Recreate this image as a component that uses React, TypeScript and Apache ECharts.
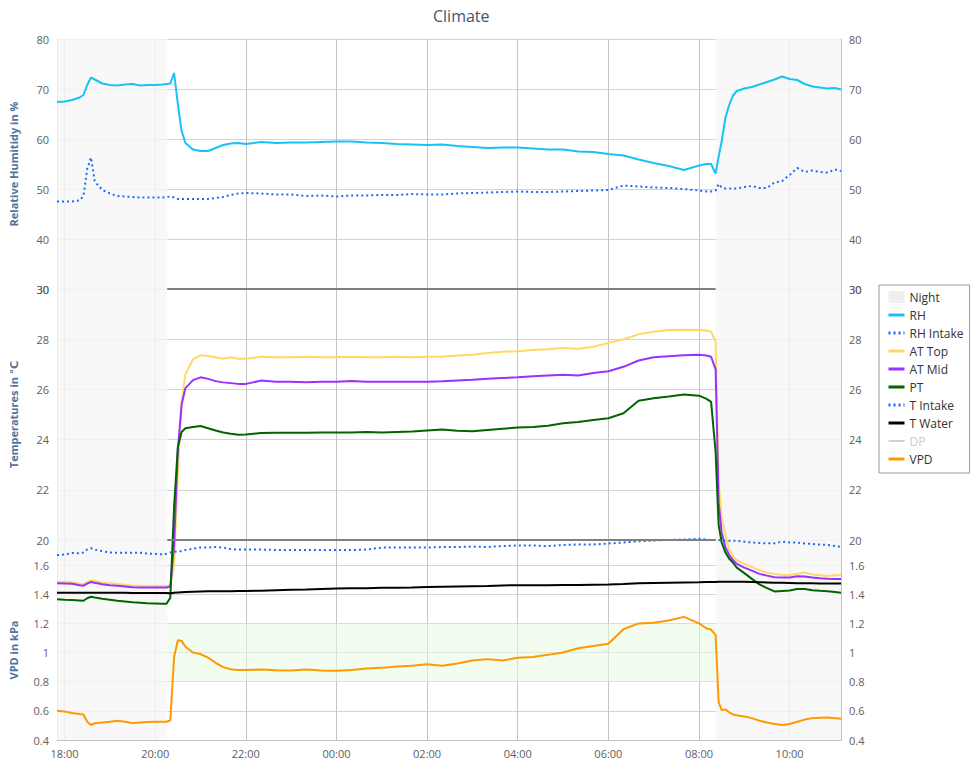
import React, { useEffect, useRef } from "react";
import * as echarts from "echarts";

// Sample times (HH:MM), evening of day 1 to late morning of day 2
const times = [
  "17:50", "18:00", "18:10", "18:20", "18:25", "18:30", "18:35", "18:40", "18:50", "19:00",
  "19:10", "19:20", "19:30", "19:40", "19:50", "20:00", "20:10", "20:15", "20:20", "20:25",
  "20:30", "20:35", "20:40", "20:50", "21:00", "21:10", "21:20", "21:30", "21:40", "21:50",
  "22:00", "22:20", "22:40", "23:00", "23:20", "23:40", "00:00", "00:20", "00:40", "01:00",
  "01:20", "01:40", "02:00", "02:20", "02:40", "03:00", "03:20", "03:40", "04:00", "04:20",
  "04:40", "05:00", "05:20", "05:40", "06:00", "06:20", "06:40", "07:00", "07:20", "07:40",
  "08:00", "08:10", "08:16", "08:22", "08:26", "08:30", "08:35", "08:40", "08:45", "08:50",
  "09:00", "09:10", "09:20", "09:30", "09:40", "09:50", "10:00", "10:10", "10:20", "10:30",
  "10:40", "10:50", "11:00", "11:08",
];

const rh = [
  67.4, 67.5, 67.8, 68.3, 68.8, 70.8, 72.3, 71.9, 71.1, 70.8,
  70.7, 70.9, 71.0, 70.7, 70.8, 70.8, 70.9, 71.0, 71.1, 73.2,
  67.0, 61.6, 59.2, 57.9, 57.6, 57.6, 58.2, 58.8, 59.1, 59.2,
  59.0, 59.4, 59.2, 59.3, 59.3, 59.4, 59.5, 59.5, 59.3, 59.2,
  59.0, 58.9, 58.8, 58.9, 58.6, 58.4, 58.2, 58.3, 58.3, 58.1,
  57.9, 57.9, 57.5, 57.4, 57.0, 56.7, 55.9, 55.2, 54.6, 53.8,
  54.7, 55.0, 55.0, 53.1, 56.5, 59.5, 64.3, 66.8, 68.7, 69.6,
  70.1, 70.4, 70.9, 71.4, 71.9, 72.5, 72.0, 71.8, 71.0, 70.5,
  70.3, 70.1, 70.2, 69.9,
];

const rhIntake = [
  47.5, 47.5, 47.5, 47.7, 48.6, 54.0, 56.3, 51.5, 49.8, 49.1,
  48.6, 48.5, 48.4, 48.3, 48.3, 48.3, 48.3, 48.4, 48.5, 48.3,
  48.0, 48.0, 48.0, 48.0, 48.0, 48.0, 48.2, 48.4, 48.8, 49.1,
  49.2, 49.1, 48.9, 48.9, 48.6, 48.7, 48.5, 48.7, 48.7, 48.8,
  48.8, 49.0, 48.9, 48.9, 49.1, 49.2, 49.3, 49.4, 49.5, 49.4,
  49.4, 49.5, 49.6, 49.7, 49.8, 50.7, 50.5, 50.3, 50.2, 50.0,
  49.7, 49.5, 49.5, 49.7, 51.0, 50.3, 50.1, 50.1, 50.1, 50.1,
  50.4, 50.6, 50.2, 50.2, 51.3, 51.6, 52.8, 54.2, 53.4, 53.7,
  53.4, 53.3, 53.9, 53.6,
];

const atTop = [
  18.34, 18.33, 18.32, 18.26, 18.24, 18.32, 18.40, 18.38, 18.30, 18.28,
  18.25, 18.22, 18.19, 18.18, 18.17, 18.17, 18.17, 18.17, 18.20, 19.00,
  22.60, 25.50, 26.60, 27.20, 27.36, 27.33, 27.28, 27.22, 27.28, 27.22,
  27.22, 27.30, 27.28, 27.28, 27.30, 27.28, 27.28, 27.30, 27.28, 27.28,
  27.30, 27.28, 27.30, 27.30, 27.35, 27.38, 27.45, 27.50, 27.52, 27.57,
  27.60, 27.65, 27.62, 27.70, 27.85, 28.00, 28.20, 28.30, 28.37, 28.38,
  28.37, 28.35, 28.30, 27.90, 22.30, 20.90, 20.20, 19.60, 19.35, 19.20,
  19.05, 18.92, 18.80, 18.70, 18.65, 18.61, 18.61, 18.66, 18.70, 18.63,
  18.60, 18.57, 18.60, 18.62,
];

const atMid = [
  18.28, 18.27, 18.26, 18.20, 18.18, 18.26, 18.33, 18.30, 18.24, 18.20,
  18.18, 18.15, 18.12, 18.11, 18.11, 18.11, 18.11, 18.11, 18.15, 19.80,
  23.60, 25.40, 26.05, 26.37, 26.48, 26.42, 26.33, 26.28, 26.25, 26.22,
  26.22, 26.35, 26.30, 26.30, 26.28, 26.30, 26.30, 26.33, 26.30, 26.30,
  26.30, 26.30, 26.30, 26.32, 26.35, 26.38, 26.42, 26.45, 26.48, 26.52,
  26.55, 26.58, 26.55, 26.65, 26.72, 26.90, 27.15, 27.28, 27.32, 27.36,
  27.38, 27.35, 27.30, 26.80, 21.50, 20.30, 19.70, 19.40, 19.20, 19.05,
  18.90, 18.78, 18.65, 18.58, 18.52, 18.51, 18.51, 18.56, 18.55, 18.51,
  18.48, 18.46, 18.45, 18.45,
];

const pt = [
  17.64, 17.62, 17.61, 17.59, 17.58, 17.68, 17.74, 17.71, 17.66, 17.62,
  17.58, 17.55, 17.52, 17.50, 17.48, 17.47, 17.46, 17.46, 17.70, 21.30,
  23.70, 24.30, 24.45, 24.50, 24.54, 24.45, 24.36, 24.28, 24.23, 24.19,
  24.20, 24.26, 24.27, 24.27, 24.27, 24.28, 24.28, 24.28, 24.30, 24.28,
  24.30, 24.32, 24.36, 24.40, 24.35, 24.33, 24.38, 24.43, 24.48, 24.50,
  24.55, 24.65, 24.70, 24.78, 24.85, 25.05, 25.55, 25.65, 25.72, 25.80,
  25.75, 25.62, 25.50, 23.50, 20.60, 19.90, 19.50, 19.25, 19.10, 18.90,
  18.68, 18.45, 18.23, 18.08, 17.95, 17.97, 17.99, 18.05, 18.05, 18.00,
  17.98, 17.96, 17.93, 17.90,
];

const tIntake = [
  19.40, 19.42, 19.48, 19.47, 19.50, 19.62, 19.67, 19.62, 19.55, 19.50,
  19.49, 19.49, 19.49, 19.49, 19.46, 19.44, 19.43, 19.45, 19.50, 19.53,
  19.55, 19.55, 19.60, 19.65, 19.70, 19.70, 19.72, 19.70, 19.64, 19.62,
  19.62, 19.62, 19.60, 19.60, 19.60, 19.60, 19.60, 19.60, 19.62, 19.70,
  19.70, 19.70, 19.70, 19.72, 19.72, 19.74, 19.72, 19.76, 19.78, 19.78,
  19.76, 19.80, 19.82, 19.82, 19.86, 19.90, 19.95, 19.98, 20.00, 20.02,
  20.05, 20.02, 20.00, 20.00, 20.00, 19.98, 19.97, 19.97, 19.97, 19.97,
  19.93, 19.90, 19.88, 19.87, 19.87, 19.93, 19.90, 19.90, 19.86, 19.84,
  19.82, 19.80, 19.76, 19.73,
];

const tWater = [
  17.90, 17.90, 17.90, 17.90, 17.90, 17.90, 17.90, 17.90, 17.90, 17.90,
  17.90, 17.90, 17.89, 17.89, 17.89, 17.89, 17.89, 17.89, 17.88, 17.90,
  17.91, 17.92, 17.93, 17.94, 17.95, 17.96, 17.96, 17.96, 17.96, 17.97,
  17.97, 17.98, 18.00, 18.02, 18.03, 18.05, 18.07, 18.08, 18.08, 18.10,
  18.10, 18.11, 18.13, 18.14, 18.15, 18.16, 18.17, 18.19, 18.20, 18.20,
  18.20, 18.21, 18.21, 18.22, 18.23, 18.25, 18.28, 18.29, 18.30, 18.31,
  18.32, 18.33, 18.33, 18.33, 18.34, 18.34, 18.34, 18.34, 18.34, 18.34,
  18.34, 18.33, 18.32, 18.31, 18.30, 18.30, 18.29, 18.28, 18.28, 18.28,
  18.27, 18.27, 18.27, 18.27,
];

const dp: number[] = []; // hidden in the legend (deselected)

const vpd = [
  0.600, 0.595, 0.585, 0.578, 0.575, 0.525, 0.503, 0.515, 0.520, 0.525,
  0.532, 0.525, 0.516, 0.520, 0.523, 0.525, 0.525, 0.525, 0.535, 0.970,
  1.085, 1.080, 1.040, 1.000, 0.990, 0.965, 0.930, 0.900, 0.885, 0.880,
  0.880, 0.883, 0.879, 0.877, 0.883, 0.877, 0.875, 0.880, 0.890, 0.895,
  0.905, 0.910, 0.920, 0.910, 0.925, 0.945, 0.955, 0.945, 0.965, 0.970,
  0.985, 1.000, 1.030, 1.045, 1.060, 1.160, 1.200, 1.205, 1.220, 1.245,
  1.200, 1.165, 1.158, 1.120, 0.660, 0.605, 0.610, 0.590, 0.575, 0.570,
  0.562, 0.550, 0.532, 0.520, 0.510, 0.503, 0.510, 0.525, 0.540, 0.550,
  0.553, 0.555, 0.550, 0.546,
];

// Day (lights on) period and target bands
const dayStart = "20:16";
const dayEnd = "08:22";
const tempBand = [20, 30];
const vpdBand = [0.8, 1.2];

// Axis ranges [min, max, interval]
const rhRange = [30, 80, 10];
const tempRange = [20, 30, 2];
const vpdRange = [0.4, 1.8, 0.2];

const legendNames = ["Night", "RH", "RH Intake", "AT Top", "AT Mid", "PT", "T Intake", "T Water", "DP", "VPD"];

const toH = (s: string) => {
  const [h, m] = s.split(":").map(Number);
  return (h < 12 ? h + 24 : h) + m / 60;
};
const pairs = (arr: number[]) => arr.map((v, i) => [toH(times[i]), v]);

const FONT = "'Open Sans', 'DejaVu Sans', sans-serif";

export default function App() {
  const ref = useRef<HTMLDivElement>(null);

  useEffect(() => {
    if (!ref.current) return;
    const chart = echarts.init(ref.current, undefined, { renderer: "svg" });

    const xMin = toH(times[0]);
    const xMax = toH(times[times.length - 1]);
    const ds = toH(dayStart);
    const de = toH(dayEnd);

    const labelStyle = { color: "#606060", fontSize: 11, fontFamily: FONT };
    const nameStyle = { color: "#4d759e", fontSize: 11, fontWeight: "bold" as const, fontFamily: FONT };

    const grids = [
      { left: 57, width: 784, top: 39, height: 250 },
      { left: 57, width: 784, top: 289, height: 251 },
      { left: 57, width: 784, top: 536, height: 204 },
    ];

    const xAxes = [0, 1, 2].map((i) => ({
      type: "value",
      gridIndex: i,
      min: xMin,
      max: xMax,
      splitNumber: 8,
      minInterval: 2,
      maxInterval: 2,
      axisLine: { show: i === 2, onZero: false, lineStyle: { color: "#c0c0c0" } },
      axisTick: { show: false },
      axisLabel: {
        show: i === 2,
        showMinLabel: false,
        showMaxLabel: false,
        margin: 8,
        ...labelStyle,
        formatter: (v: number) => {
          const h = ((Math.round(v) % 24) + 24) % 24;
          return (h < 10 ? "0" : "") + h + ":00";
        },
      },
      splitLine: { show: true, lineStyle: { color: "#c4c4c4" } },
    }));

    const yAx = (
      grid: number,
      range: number[],
      pos: "left" | "right",
      name?: string,
      extra: any = {}
    ) => ({
      type: "value",
      gridIndex: grid,
      position: pos,
      min: range[0],
      max: range[1],
      interval: range[2],
      axisLine: { show: true, onZero: false, lineStyle: { color: "#c0c0c0" } },
      axisTick: { show: false },
      axisLabel: { margin: 8, ...labelStyle, ...(extra.axisLabel || {}) },
      splitLine: {
        show: pos === "left",
        lineStyle: { color: "#d4d4d4" },
        ...(extra.splitLine || {}),
      },
      name: name,
      nameLocation: "middle",
      nameGap: 38,
      nameTextStyle: { ...nameStyle, ...(extra.nameTextStyle || {}) },
    });

    const vpdFmt = (v: number) => (v > vpdRange[1] - 0.05 ? "" : String(+v.toFixed(1)));

    const yAxes = [
      yAx(0, rhRange, "left", "Relative Humitidy in %"),
      yAx(0, rhRange, "right"),
      yAx(1, tempRange, "left", "Temperatures in \u2103"),
      yAx(1, tempRange, "right"),
      yAx(2, vpdRange, "left", "VPD in kPa", {
        axisLabel: { formatter: vpdFmt },
        splitLine: { showMaxLine: false },
        nameTextStyle: { padding: [0, 24, 0, 0] },
      }),
      yAx(2, vpdRange, "right", undefined, { axisLabel: { formatter: vpdFmt } }),
    ];

    const nightColor = "rgba(246,246,246,0.8)";
    const nightAreas = [
      [{ xAxis: xMin }, { xAxis: ds }],
      [{ xAxis: de }, { xAxis: xMax }],
    ];
    const nightSeries = [0, 1, 2].map((i) => ({
      name: "Night",
      type: "line",
      xAxisIndex: i,
      yAxisIndex: [0, 2, 4][i],
      data: [],
      z: 1,
      symbol: "none",
      itemStyle: { color: "#eeeeee" },
      lineStyle: { color: "#eeeeee" },
      markArea: { silent: true, itemStyle: { color: nightColor }, data: nightAreas },
    }));

    const line = (
      name: string,
      data: number[],
      grid: number,
      yIdx: number,
      color: string,
      dotted = false,
      extra: any = {}
    ) => ({
      name,
      type: "line",
      xAxisIndex: grid,
      yAxisIndex: yIdx,
      data: pairs(data),
      showSymbol: false,
      symbol: "none",
      clip: false,
      z: 3,
      itemStyle: { color },
      lineStyle: { color, width: 2, type: dotted ? [2, 3] : "solid", cap: "butt" },
      ...extra,
    });

    const option: any = {
      animation: false,
      textStyle: { fontFamily: FONT },
      title: {
        text: "Climate",
        left: 428,
        top: 3,
        textStyle: { color: "#3e576f", fontSize: 16, fontWeight: "normal", fontFamily: FONT },
      },
      legend: {
        orient: "vertical",
        left: 879,
        top: 285,
        padding: [6, 6, 8, 8],
        itemWidth: 16,
        itemHeight: 12,
        itemGap: 6,
        borderColor: "#999999",
        borderWidth: 1,
        inactiveColor: "#cccccc",
        itemStyle: { opacity: 0 },
        lineStyle: { width: 3 },
        textStyle: { color: "#333333", fontSize: 12, fontFamily: FONT },
        selected: { DP: false },
        data: legendNames.map((n) =>
          n === "Night"
            ? { name: n, icon: "rect", itemStyle: { color: "#efefef", opacity: 1 } }
            : n
        ),
      },
      grid: grids,
      xAxis: xAxes,
      yAxis: yAxes,
      series: [
        ...nightSeries,
        line("RH", rh, 0, 0, "#18c3f3"),
        line("RH Intake", rhIntake, 0, 0, "#1a6cf5", true),
        line("AT Top", atTop, 1, 2, "#ffd966", false, {
          markLine: {
            silent: true,
            symbol: ["none", "none"],
            label: { show: false },
            lineStyle: { color: "#808080", width: 2, type: "solid" },
            data: [
              [{ coord: [ds, tempBand[1]] }, { coord: [de, tempBand[1]] }],
              [{ coord: [ds, tempBand[0]] }, { coord: [de, tempBand[0]] }],
            ],
          },
        }),
        line("AT Mid", atMid, 1, 2, "#9b30ff"),
        line("PT", pt, 1, 2, "#006400"),
        line("T Intake", tIntake, 1, 2, "#1a6cf5", true),
        line("T Water", tWater, 1, 2, "#000000"),
        line("DP", dp, 1, 2, "#c0c0c0"),
        line("VPD", vpd, 2, 4, "#ff9900", false, {
          markArea: {
            silent: true,
            itemStyle: { color: "rgba(232,250,226,0.55)" },
            data: [[{ xAxis: ds, yAxis: vpdBand[0] }, { xAxis: de, yAxis: vpdBand[1] }]],
          },
        }),
      ],
    };

    chart.setOption(option);
    return () => chart.dispose();
  }, []);

  return (
    <div
      ref={ref}
      style={{ position: "fixed", left: 0, top: 0, width: 972, height: 766, background: "#ffffff" }}
    />
  );
}
